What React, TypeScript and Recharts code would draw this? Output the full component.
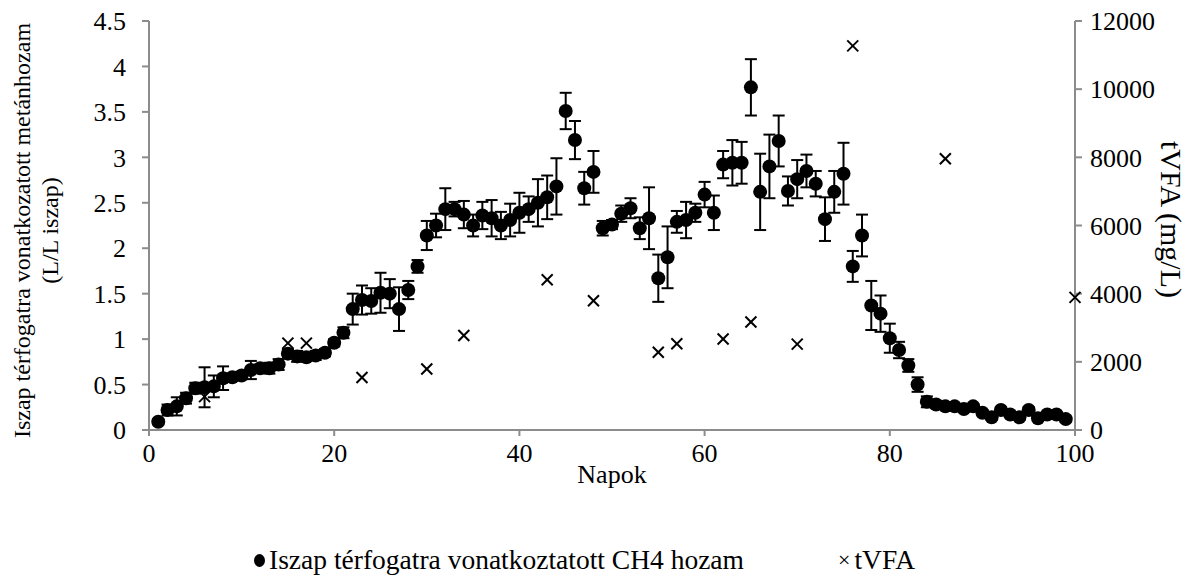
import { ComposedChart, Scatter, XAxis, YAxis, ErrorBar } from "recharts";

const days = Array.from({ length: 99 }, (_, i) => i + 1);

const ch4Yield = [
  0.09, 0.22, 0.26, 0.35, 0.46, 0.47, 0.48, 0.57, 0.58, 0.6,
  0.66, 0.68, 0.68, 0.72, 0.84, 0.81, 0.8, 0.82, 0.85, 0.96,
  1.07, 1.33, 1.43, 1.42, 1.51, 1.5, 1.33, 1.54, 1.8, 2.14,
  2.25, 2.43, 2.43, 2.37, 2.25, 2.36, 2.33, 2.25, 2.31, 2.39,
  2.43, 2.5, 2.56, 2.68, 3.51, 3.19, 2.66, 2.84, 2.22, 2.26,
  2.38, 2.44, 2.22, 2.33, 1.67, 1.9, 2.29, 2.31, 2.39, 2.59,
  2.39, 2.92, 2.94, 2.94, 3.77, 2.62, 2.9, 3.18, 2.63, 2.76,
  2.85, 2.71, 2.32, 2.62, 2.82, 1.8, 2.14, 1.37, 1.28, 1.01,
  0.88, 0.71, 0.5, 0.31, 0.28, 0.26, 0.26, 0.23, 0.26, 0.19,
  0.14, 0.22, 0.17, 0.14, 0.22, 0.13, 0.17, 0.17, 0.12,
];

const ch4Err = [
  0.03, 0.06, 0.1, 0.06, 0.06, 0.22, 0.12, 0.13, 0.04, 0.04,
  0.1, 0.04, 0.06, 0.06, 0.05, 0.06, 0.04, 0.05, 0.04, 0.04,
  0.06, 0.17, 0.16, 0.14, 0.22, 0.16, 0.24, 0.1, 0.07, 0.16,
  0.13, 0.23, 0.08, 0.15, 0.12, 0.15, 0.2, 0.15, 0.18, 0.22,
  0.14, 0.26, 0.24, 0.31, 0.2, 0.21, 0.18, 0.23, 0.08, 0.05,
  0.09, 0.11, 0.12, 0.34, 0.26, 0.34, 0.12, 0.2, 0.1, 0.14,
  0.19, 0.15, 0.25, 0.23, 0.31, 0.42, 0.35, 0.28, 0.16, 0.21,
  0.18, 0.14, 0.24, 0.23, 0.34, 0.17, 0.23, 0.27, 0.2, 0.16,
  0.09, 0.07, 0.08, 0.06, 0.04, 0.03, 0.03, 0.03, 0.03, 0.03,
  0.03, 0.03, 0.03, 0.03, 0.03, 0.03, 0.03, 0.03, 0.03,
];

const tvfaDays = [6, 15, 17, 23, 30, 34, 43, 48, 55, 57, 62, 65, 70, 76, 86, 100];
const tvfaValues = [980, 2550, 2550, 1540, 1790, 2775, 4410, 3790, 2280, 2530, 2670, 3170, 2520, 11270, 7960, 3890];

const xTicks = [0, 20, 40, 60, 80, 100];
const leftTicks = [0, 0.5, 1, 1.5, 2, 2.5, 3, 3.5, 4, 4.5];
const rightTicks = [0, 2000, 4000, 6000, 8000, 10000, 12000];

const ch4Data = days.map((d, i) => ({ day: d, ch4: ch4Yield[i], err: ch4Err[i] }));
const tvfaData = tvfaDays.map((d, i) => ({ day: d, tvfa: tvfaValues[i] }));

const FONT = "Liberation Serif";
const AXIS = "#8c8c8c";

const Dot = (p: any) => <circle cx={p.cx} cy={p.cy} r={7} fill="#000" />;
const Cross = (p: any) => (
  <g stroke="#000" strokeWidth={2}>
    <line x1={p.cx - 5.5} y1={p.cy - 5.5} x2={p.cx + 5.5} y2={p.cy + 5.5} />
    <line x1={p.cx - 5.5} y1={p.cy + 5.5} x2={p.cx + 5.5} y2={p.cy - 5.5} />
  </g>
);

const tickStyle = { fill: "#000", fontSize: 26, fontFamily: FONT };

export default function App() {
  return (
    <div style={{ position: "absolute", left: 0, top: 0, width: 1190, height: 583, fontFamily: FONT }}>
      <ComposedChart width={1190} height={583} margin={{ top: 21, right: 0, bottom: 73, left: 0 }}>
        <XAxis
          dataKey="day"
          type="number"
          domain={[0, 100]}
          ticks={xTicks}
          height={80}
          stroke={AXIS}
          strokeWidth={2}
          tickSize={6}
          tickMargin={8}
          tick={tickStyle}
          label={{
            content: ({ viewBox }: any) => (
              <text x={viewBox.x + viewBox.width / 2} y={viewBox.y + 53} textAnchor="middle" fontSize={26} fontFamily={FONT} fill="#000">
                Napok
              </text>
            ),
          }}
        />
        <YAxis
          yAxisId="left"
          domain={[0, 4.5]}
          ticks={leftTicks}
          width={149}
          stroke={AXIS}
          strokeWidth={2}
          tickSize={7}
          tickMargin={16}
          tick={tickStyle}
          label={{
            content: ({ viewBox }: any) => {
              const cy = viewBox.y + viewBox.height / 2 + 5;
              return (
                <text transform={`translate(0, ${cy}) rotate(-90)`} textAnchor="middle" fontSize={24} fontFamily={FONT} fill="#000">
                  <tspan x={0} y={30}>Iszap térfogatra vonatkozatott metánhozam</tspan>
                  <tspan x={0} y={58}>(L/L iszap)</tspan>
                </text>
              );
            },
          }}
        />
        <YAxis
          yAxisId="right"
          orientation="right"
          domain={[0, 12000]}
          ticks={rightTicks}
          width={115}
          stroke={AXIS}
          strokeWidth={2}
          tickSize={7}
          tickMargin={8}
          tick={tickStyle}
          label={{
            content: ({ viewBox }: any) => {
              const cy = viewBox.y + viewBox.height / 2 - 6;
              return (
                <text transform={`translate(1161, ${cy}) rotate(90)`} textAnchor="middle" fontSize={30} fontFamily={FONT} fill="#000">
                  tVFA (mg/L)
                </text>
              );
            },
          }}
        />
        <Scatter yAxisId="right" data={tvfaData} dataKey="tvfa" shape={Cross} isAnimationActive={false} />
        <Scatter yAxisId="left" data={ch4Data} dataKey="ch4" shape={Dot} isAnimationActive={false}>
          <ErrorBar dataKey="err" direction="y" width={6} stroke="#000" strokeWidth={2} />
        </Scatter>
      </ComposedChart>
      <div
        style={{
          position: "absolute",
          top: 545,
          left: 254,
          display: "flex",
          alignItems: "center",
          fontSize: 27.5,
          lineHeight: "30px",
          color: "#000",
          whiteSpace: "nowrap",
        }}
      >
        <span style={{ display: "inline-block", width: 11, height: 13, borderRadius: "50%", background: "#000", marginRight: 4 }} />
        <span>Iszap térfogatra vonatkoztatott CH4 hozam</span>
        <span style={{ marginLeft: 94, marginRight: 4, fontSize: 22 }}>×</span>
        <span>tVFA</span>
      </div>
    </div>
  );
}
